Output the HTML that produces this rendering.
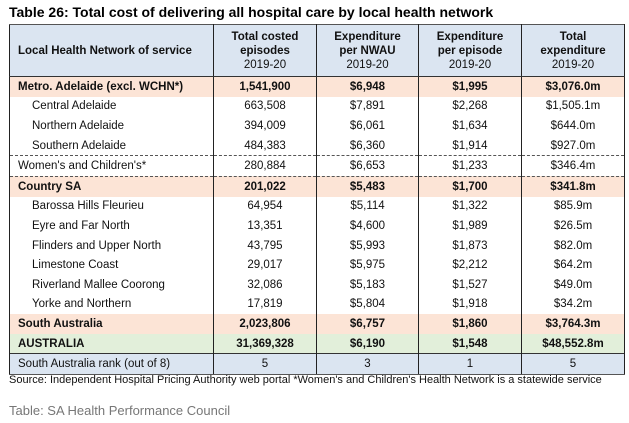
<!DOCTYPE html><html><head><style>
body{margin:0;width:629px;height:423px;background:#fff;font-family:"Liberation Sans",Arial,sans-serif;position:relative;overflow:hidden}
.t{position:absolute;left:9px;top:4px;font-weight:bold;font-size:14px;color:#000}
table{position:absolute;left:9px;top:24px;border-collapse:collapse;font-size:11.5px;color:#111}
td{height:19.6px;padding:0;text-align:center;border-left:1px solid #222;border-right:1px solid #222}
td:first-child{text-align:left;padding-left:8px}
.s td:first-child{padding-left:22px}
.h td{background:#dbe5f1;height:51px;font-weight:bold;line-height:14px;border-bottom:1.5px solid #333;border-top:1.5px solid #555}
.h span{font-weight:normal}
.o td{background:#fce4d6;font-weight:bold}
.g td{background:#e2efda;font-weight:bold}
.r td{background:#dbe5f1;border-top:1.5px solid #333;border-bottom:1.5px solid #555}
.d td{border-bottom:1px dashed #555}
.src{position:absolute;left:9px;top:374px;font-size:11px;color:#111}
.cap{position:absolute;left:9px;top:403px;font-size:13px;color:#777}
</style></head><body>
<div class="t">Table 26: Total cost of delivering all hospital care by local health network</div>
<table>
<colgroup><col style="width:204px"><col style="width:103px"><col style="width:102px"><col style="width:103px"><col style="width:103px"></colgroup>
<tr class="h"><td>Local Health Network of service</td><td>Total costed<br>episodes<br><span>2019-20</span></td><td>Expenditure<br>per NWAU<br><span>2019-20</span></td><td>Expenditure<br>per episode<br><span>2019-20</span></td><td>Total<br>expenditure<br><span>2019-20</span></td></tr>
<tr class="o"><td>Metro. Adelaide (excl. WCHN*)</td><td>1,541,900</td><td>$6,948</td><td>$1,995</td><td>$3,076.0m</td></tr>
<tr class="s"><td>Central Adelaide</td><td>663,508</td><td>$7,891</td><td>$2,268</td><td>$1,505.1m</td></tr>
<tr class="s"><td>Northern Adelaide</td><td>394,009</td><td>$6,061</td><td>$1,634</td><td>$644.0m</td></tr>
<tr class="s d"><td>Southern Adelaide</td><td>484,383</td><td>$6,360</td><td>$1,914</td><td>$927.0m</td></tr>
<tr class="d"><td>Women's and Children's*</td><td>280,884</td><td>$6,653</td><td>$1,233</td><td>$346.4m</td></tr>
<tr class="o"><td>Country SA</td><td>201,022</td><td>$5,483</td><td>$1,700</td><td>$341.8m</td></tr>
<tr class="s"><td>Barossa Hills Fleurieu</td><td>64,954</td><td>$5,114</td><td>$1,322</td><td>$85.9m</td></tr>
<tr class="s"><td>Eyre and Far North</td><td>13,351</td><td>$4,600</td><td>$1,989</td><td>$26.5m</td></tr>
<tr class="s"><td>Flinders and Upper North</td><td>43,795</td><td>$5,993</td><td>$1,873</td><td>$82.0m</td></tr>
<tr class="s"><td>Limestone Coast</td><td>29,017</td><td>$5,975</td><td>$2,212</td><td>$64.2m</td></tr>
<tr class="s"><td>Riverland Mallee Coorong</td><td>32,086</td><td>$5,183</td><td>$1,527</td><td>$49.0m</td></tr>
<tr class="s"><td>Yorke and Northern</td><td>17,819</td><td>$5,804</td><td>$1,918</td><td>$34.2m</td></tr>
<tr class="o"><td>South Australia</td><td>2,023,806</td><td>$6,757</td><td>$1,860</td><td>$3,764.3m</td></tr>
<tr class="g"><td>AUSTRALIA</td><td>31,369,328</td><td>$6,190</td><td>$1,548</td><td>$48,552.8m</td></tr>
<tr class="r"><td>South Australia rank (out of 8)</td><td>5</td><td>3</td><td>1</td><td>5</td></tr>
</table>
<div class="src">Source: Independent Hospital Pricing Authority web portal *Women's and Children's Health Network is a statewide service</div>
<div class="cap">Table: SA Health Performance Council</div>
</body></html>
